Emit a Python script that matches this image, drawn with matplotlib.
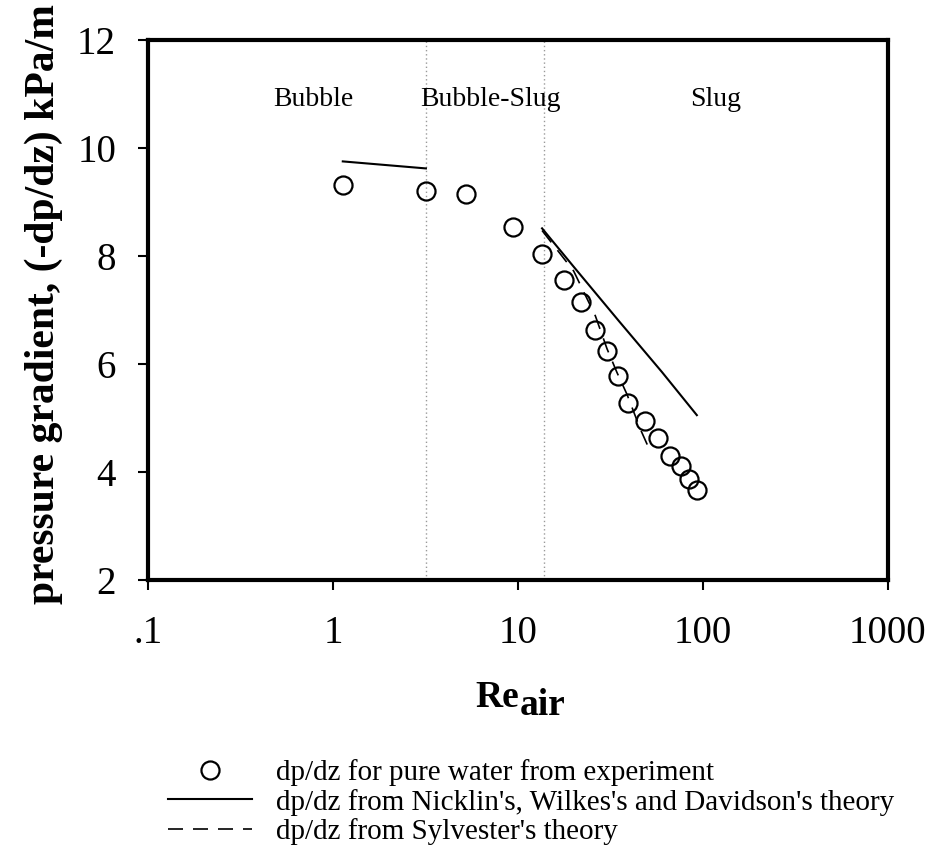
import numpy as np
import matplotlib
matplotlib.use("Agg")
import matplotlib.pyplot as plt
from matplotlib.ticker import FixedLocator, FixedFormatter, NullLocator

plt.rcParams['font.family'] = ['Liberation Serif', 'DejaVu Serif']

# experiment points (Re_air, -dp/dz in kPa/m)
re_exp = [1.13, 3.18, 5.26, 9.44, 13.5, 17.7, 21.9, 26.2, 30.3, 34.7, 39.3,
          48.4, 57.0, 66.5, 76.3, 84.3, 92.7]
dp_exp = [9.31, 9.20, 9.14, 8.54, 8.04, 7.56, 7.15, 6.62, 6.24, 5.78, 5.28,
          4.94, 4.63, 4.29, 4.11, 3.87, 3.67]

# Nicklin, Wilkes & Davidson theory (bubble part and slug part)
re_nwd_bubble = [1.13, 3.18]
dp_nwd_bubble = [9.75, 9.62]
re_nwd_slug = [13.5, 20.0, 35.0, 60.0, 92.7]
dp_nwd_slug = [8.51, 7.80, 6.80, 5.85, 5.05]

# Sylvester theory
re_syl = [13.5, 20.0, 26.2, 30.3, 34.3, 38.8, 45.9, 51.9]
dp_syl = [8.47, 7.72, 6.89, 6.28, 5.84, 5.44, 4.79, 4.38]

# flow regime borders and labels
regime_bounds = [3.2, 13.8]
regime_names = ["Bubble", "Bubble-Slug", "Slug"]
regime_x = [0.785, 7.06, 116.8]

xticks = [0.1, 1, 10, 100, 1000]
xtick_labels = [".1", "1", "10", "100", "1000"]
yticks = [2, 4, 6, 8, 10, 12]

fig = plt.figure(figsize=(9.39, 8.68), dpi=100)
ax = fig.add_axes([0.1576, 0.332, 0.788, 0.622])

for b in regime_bounds:
    ax.axvline(b, color="#9a9a9a", lw=1.0, ls=(0, (1, 2)), zorder=1)

l1, = ax.plot(re_exp, dp_exp, ls="none", marker="o", ms=13, mfc="none",
              mec="black", mew=1.6, zorder=3)
l2, = ax.plot(re_nwd_bubble, dp_nwd_bubble, color="black", lw=1.5, zorder=2)
ax.plot(re_nwd_slug, dp_nwd_slug, color="black", lw=1.5, zorder=2)
l3, = ax.plot(re_syl, dp_syl, color="black", lw=1.2, ls=(0, (9, 6)), zorder=2)

for name, xpos in zip(regime_names, regime_x):
    ax.text(xpos, 10.9, name, ha="center", va="center", fontsize=20)

ax.set_xscale("log")
ax.set_xlim(0.1, 1000)
ax.set_ylim(2, 12)
ax.xaxis.set_major_locator(FixedLocator(xticks))
ax.xaxis.set_major_formatter(FixedFormatter(xtick_labels))
ax.xaxis.set_minor_locator(NullLocator())
ax.set_yticks(yticks)
ax.tick_params(axis="both", direction="out", length=7, width=1.5,
               labelsize=28, top=False, right=False)
ax.tick_params(axis="x", pad=18)
ax.tick_params(axis="y", pad=16)

for s in ax.spines.values():
    s.set_linewidth(3)

ax.set_ylabel("pressure gradient, (-dp/dz) kPa/m", fontsize=30,
              fontweight="bold")
ax.yaxis.set_label_coords(-0.115, 0.51)

# x label: "Re" with a lowered "air", same size
fig.text(0.5527, 1 - 707 / 868, "Re", ha="right", va="baseline",
         fontsize=27, fontweight="bold")
fig.text(0.5538, 1 - 715 / 868, "air", ha="left", va="baseline",
         fontsize=27, fontweight="bold")

fig.legend([l1, l2, l3],
           ["dp/dz for pure water from experiment",
            "dp/dz from Nicklin's, Wilkes's and Davidson's theory",
            "dp/dz from Sylvester's theory"],
           loc="upper left", bbox_to_anchor=(0.163, 0.142), frameon=False,
           fontsize=21, handlelength=2.9, handletextpad=0.8,
           labelspacing=0.08, borderpad=0)

fig.savefig("out.png", dpi=100)
